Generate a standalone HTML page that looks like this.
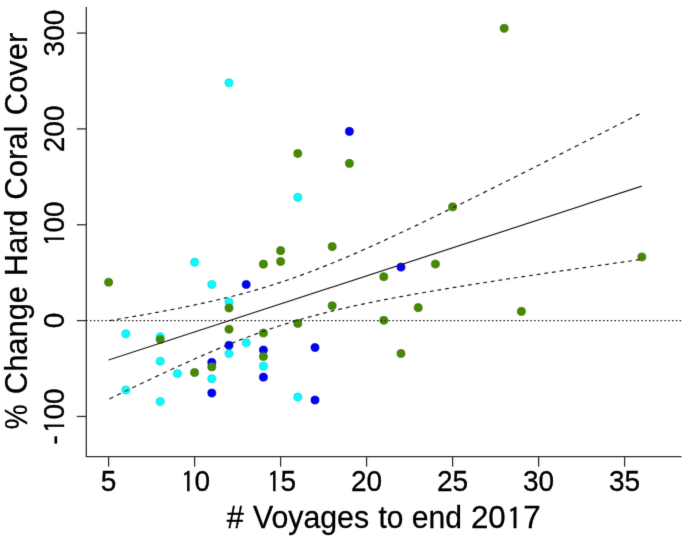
<!DOCTYPE html>
<html><head><meta charset="utf-8"><style>
html,body{margin:0;padding:0;background:#fff;}
body{width:685px;height:538px;overflow:hidden;}
svg{display:block;}
.tk{font-family:"Liberation Sans",Arial,sans-serif;font-size:28px;fill:#000;stroke:#000;stroke-width:0.3px;}
.tt{font-family:"Liberation Sans",Arial,sans-serif;font-size:31px;fill:#000;stroke:#000;stroke-width:0.3px;}
</style></head><body>
<svg width="685" height="538" viewBox="0 0 685 538">
<defs><filter id="bl" x="-5%" y="-5%" width="110%" height="110%"><feConvolveMatrix order="3" kernelMatrix="0.00640 0.06720 0.00640 0.06720 0.70560 0.06720 0.00640 0.06720 0.00640" preserveAlpha="false" edgeMode="none"/></filter></defs>
<rect width="685" height="538" fill="#fff"/>
<g filter="url(#bl)">
<circle cx="125.80" cy="333.83" r="4.05" fill="#00FFFF" stroke="#19c4cc" stroke-width="0.6"/><circle cx="125.80" cy="390.00" r="4.05" fill="#00FFFF" stroke="#19c4cc" stroke-width="0.6"/><circle cx="160.20" cy="336.70" r="4.05" fill="#00FFFF" stroke="#19c4cc" stroke-width="0.6"/><circle cx="160.20" cy="361.24" r="4.05" fill="#00FFFF" stroke="#19c4cc" stroke-width="0.6"/><circle cx="160.20" cy="401.59" r="4.05" fill="#00FFFF" stroke="#19c4cc" stroke-width="0.6"/><circle cx="177.40" cy="373.61" r="4.05" fill="#00FFFF" stroke="#19c4cc" stroke-width="0.6"/><circle cx="194.60" cy="262.13" r="4.05" fill="#00FFFF" stroke="#19c4cc" stroke-width="0.6"/><circle cx="211.80" cy="284.46" r="4.05" fill="#00FFFF" stroke="#19c4cc" stroke-width="0.6"/><circle cx="211.80" cy="378.78" r="4.05" fill="#00FFFF" stroke="#19c4cc" stroke-width="0.6"/><circle cx="229.00" cy="82.80" r="4.05" fill="#00FFFF" stroke="#19c4cc" stroke-width="0.6"/><circle cx="229.00" cy="302.10" r="4.05" fill="#00FFFF" stroke="#19c4cc" stroke-width="0.6"/><circle cx="229.00" cy="353.48" r="4.05" fill="#00FFFF" stroke="#19c4cc" stroke-width="0.6"/><circle cx="246.20" cy="342.74" r="4.05" fill="#00FFFF" stroke="#19c4cc" stroke-width="0.6"/><circle cx="263.40" cy="366.13" r="4.05" fill="#00FFFF" stroke="#19c4cc" stroke-width="0.6"/><circle cx="297.80" cy="197.34" r="4.05" fill="#00FFFF" stroke="#19c4cc" stroke-width="0.6"/><circle cx="297.80" cy="397.09" r="4.05" fill="#00FFFF" stroke="#19c4cc" stroke-width="0.6"/>
<circle cx="211.80" cy="362.39" r="4.05" fill="#0000FF" stroke="#0a0aa8" stroke-width="0.6"/><circle cx="211.80" cy="393.06" r="4.05" fill="#0000FF" stroke="#0a0aa8" stroke-width="0.6"/><circle cx="229.00" cy="345.33" r="4.05" fill="#0000FF" stroke="#0a0aa8" stroke-width="0.6"/><circle cx="246.20" cy="284.46" r="4.05" fill="#0000FF" stroke="#0a0aa8" stroke-width="0.6"/><circle cx="263.40" cy="350.03" r="4.05" fill="#0000FF" stroke="#0a0aa8" stroke-width="0.6"/><circle cx="263.40" cy="377.15" r="4.05" fill="#0000FF" stroke="#0a0aa8" stroke-width="0.6"/><circle cx="315.00" cy="347.53" r="4.05" fill="#0000FF" stroke="#0a0aa8" stroke-width="0.6"/><circle cx="315.00" cy="400.06" r="4.05" fill="#0000FF" stroke="#0a0aa8" stroke-width="0.6"/><circle cx="349.40" cy="131.39" r="4.05" fill="#0000FF" stroke="#0a0aa8" stroke-width="0.6"/><circle cx="401.00" cy="267.12" r="4.05" fill="#0000FF" stroke="#0a0aa8" stroke-width="0.6"/>
<circle cx="108.60" cy="282.26" r="4.05" fill="#458B00" stroke="#3b6a12" stroke-width="0.6"/><circle cx="160.20" cy="339.48" r="4.05" fill="#458B00" stroke="#3b6a12" stroke-width="0.6"/><circle cx="194.60" cy="372.55" r="4.05" fill="#458B00" stroke="#3b6a12" stroke-width="0.6"/><circle cx="211.80" cy="366.90" r="4.05" fill="#458B00" stroke="#3b6a12" stroke-width="0.6"/><circle cx="229.00" cy="307.95" r="4.05" fill="#458B00" stroke="#3b6a12" stroke-width="0.6"/><circle cx="229.00" cy="329.23" r="4.05" fill="#458B00" stroke="#3b6a12" stroke-width="0.6"/><circle cx="263.40" cy="264.14" r="4.05" fill="#458B00" stroke="#3b6a12" stroke-width="0.6"/><circle cx="263.40" cy="333.06" r="4.05" fill="#458B00" stroke="#3b6a12" stroke-width="0.6"/><circle cx="263.40" cy="356.54" r="4.05" fill="#458B00" stroke="#3b6a12" stroke-width="0.6"/><circle cx="280.60" cy="250.63" r="4.05" fill="#458B00" stroke="#3b6a12" stroke-width="0.6"/><circle cx="280.60" cy="261.46" r="4.05" fill="#458B00" stroke="#3b6a12" stroke-width="0.6"/><circle cx="297.80" cy="153.44" r="4.05" fill="#458B00" stroke="#3b6a12" stroke-width="0.6"/><circle cx="297.80" cy="323.38" r="4.05" fill="#458B00" stroke="#3b6a12" stroke-width="0.6"/><circle cx="332.20" cy="246.60" r="4.05" fill="#458B00" stroke="#3b6a12" stroke-width="0.6"/><circle cx="332.20" cy="305.74" r="4.05" fill="#458B00" stroke="#3b6a12" stroke-width="0.6"/><circle cx="349.40" cy="163.41" r="4.05" fill="#458B00" stroke="#3b6a12" stroke-width="0.6"/><circle cx="383.80" cy="276.70" r="4.05" fill="#458B00" stroke="#3b6a12" stroke-width="0.6"/><circle cx="383.80" cy="320.31" r="4.05" fill="#458B00" stroke="#3b6a12" stroke-width="0.6"/><circle cx="401.00" cy="353.48" r="4.05" fill="#458B00" stroke="#3b6a12" stroke-width="0.6"/><circle cx="418.20" cy="307.66" r="4.05" fill="#458B00" stroke="#3b6a12" stroke-width="0.6"/><circle cx="435.40" cy="264.05" r="4.05" fill="#458B00" stroke="#3b6a12" stroke-width="0.6"/><circle cx="452.60" cy="206.92" r="4.05" fill="#458B00" stroke="#3b6a12" stroke-width="0.6"/><circle cx="504.20" cy="28.35" r="4.05" fill="#458B00" stroke="#3b6a12" stroke-width="0.6"/><circle cx="521.40" cy="311.40" r="4.05" fill="#458B00" stroke="#3b6a12" stroke-width="0.6"/><circle cx="641.80" cy="256.96" r="4.05" fill="#458B00" stroke="#3b6a12" stroke-width="0.6"/>
<line x1="86.09" y1="320.60" x2="681.5" y2="320.60" stroke="#222" stroke-width="1.1" stroke-dasharray="1.5 2.329"/>
<path d="M109.40,320.64 L111.30,320.33 L113.20,320.01M117.03,319.37 L118.93,319.05 L120.83,318.73M124.66,318.08 L126.56,317.76 L128.46,317.43M132.29,316.77 L134.19,316.44 L136.09,316.11M139.92,315.44 L141.82,315.10 L143.72,314.77M147.54,314.08 L149.44,313.74 L151.34,313.40M155.17,312.70 L157.07,312.35 L158.97,312.00M162.80,311.28 L164.70,310.93 L166.60,310.57M170.43,309.84 L172.33,309.47 L174.23,309.10M178.06,308.35 L179.96,307.97 L181.86,307.59M185.69,306.82 L187.59,306.44 L189.49,306.05M193.32,305.25 L195.22,304.85 L197.12,304.45M200.95,303.63 L202.85,303.21 L204.75,302.80M208.58,301.95 L210.48,301.52 L212.38,301.09M216.21,300.21 L218.11,299.77 L220.01,299.32M223.83,298.40 L225.73,297.94 L227.63,297.48M231.46,296.52 L233.36,296.04 L235.26,295.56M239.09,294.57 L240.99,294.07 L242.89,293.56M246.72,292.53 L248.62,292.00 L250.52,291.48M254.35,290.39 L256.25,289.85 L258.15,289.30M261.98,288.17 L263.88,287.60 L265.78,287.03M269.61,285.85 L271.51,285.26 L273.41,284.66M277.24,283.43 L279.14,282.81 L281.04,282.19M284.87,280.91 L286.77,280.27 L288.67,279.62M292.50,278.29 L294.40,277.62 L296.30,276.95M300.12,275.57 L302.02,274.88 L303.92,274.18M307.75,272.76 L309.65,272.05 L311.55,271.33M315.38,269.86 L317.28,269.12 L319.18,268.38M323.01,266.87 L324.91,266.11 L326.81,265.35M330.64,263.80 L332.54,263.02 L334.44,262.24M338.27,260.65 L340.17,259.86 L342.07,259.06M345.90,257.44 L347.80,256.63 L349.70,255.81M353.53,254.16 L355.43,253.34 L357.33,252.51M361.16,250.83 L363.06,249.99 L364.96,249.15M368.79,247.44 L370.69,246.59 L372.59,245.73M376.42,244.00 L378.31,243.14 L380.21,242.28M384.04,240.53 L385.94,239.65 L387.84,238.78M391.67,237.01 L393.57,236.13 L395.47,235.25M399.30,233.46 L401.20,232.57 L403.10,231.68M406.93,229.88 L408.83,228.98 L410.73,228.08M414.56,226.27 L416.46,225.36 L418.36,224.46M422.19,222.63 L424.09,221.72 L425.99,220.81M429.82,218.97 L431.72,218.05 L433.62,217.14M437.45,215.29 L439.35,214.37 L441.25,213.44M445.08,211.58 L446.98,210.66 L448.88,209.73M452.71,207.87 L454.61,206.94 L456.50,206.01M460.33,204.13 L462.23,203.20 L464.13,202.27M467.96,200.38 L469.86,199.45 L471.76,198.51M475.59,196.62 L477.49,195.68 L479.39,194.74M483.22,192.85 L485.12,191.90 L487.02,190.96M490.85,189.06 L492.75,188.12 L494.65,187.17M498.48,185.26 L500.38,184.32 L502.28,183.37M506.11,181.46 L508.01,180.51 L509.91,179.56M513.74,177.65 L515.64,176.70 L517.54,175.74M521.37,173.82 L523.27,172.87 L525.17,171.92M529.00,170.00 L530.89,169.04 L532.79,168.09M536.62,166.16 L538.52,165.20 L540.42,164.25M544.25,162.32 L546.15,161.36 L548.05,160.40M551.88,158.47 L553.78,157.51 L555.68,156.55M559.51,154.62 L561.41,153.66 L563.31,152.69M567.14,150.76 L569.04,149.80 L570.94,148.83M574.77,146.89 L576.67,145.93 L578.57,144.97M582.40,143.03 L584.30,142.06 L586.20,141.10M590.03,139.15 L591.93,138.19 L593.83,137.22M597.66,135.28 L599.56,134.31 L601.46,133.35M605.28,131.40 L607.18,130.43 L609.08,129.47M612.91,127.52 L614.81,126.55 L616.71,125.58M620.54,123.63 L622.44,122.66 L624.34,121.69M628.17,119.74 L630.07,118.77 L631.97,117.80M635.80,115.85 L637.70,114.88 L639.60,113.91" fill="none" stroke="#222" stroke-width="1.2"/>
<path d="M109.40,398.94 L111.30,398.02 L113.20,397.09M117.03,395.23 L118.93,394.31 L120.83,393.39M124.66,391.54 L126.56,390.63 L128.46,389.71M132.29,387.88 L134.19,386.96 L136.09,386.06M139.92,384.23 L141.82,383.32 L143.72,382.42M147.54,380.61 L149.44,379.71 L151.34,378.81M155.17,377.01 L157.07,376.12 L158.97,375.23M162.80,373.45 L164.70,372.57 L166.60,371.69M170.43,369.92 L172.33,369.04 L174.23,368.17M178.06,366.43 L179.96,365.56 L181.86,364.70M185.69,362.97 L187.59,362.12 L189.49,361.27M193.32,359.57 L195.22,358.73 L197.12,357.89M200.95,356.21 L202.85,355.39 L204.75,354.56M208.58,352.91 L210.48,352.10 L212.38,351.29M216.21,349.67 L218.11,348.88 L220.01,348.08M223.83,346.50 L225.73,345.72 L227.63,344.95M231.46,343.40 L233.36,342.64 L235.26,341.89M239.09,340.38 L240.99,339.64 L242.89,338.91M246.72,337.44 L248.62,336.73 L250.52,336.01M254.35,334.60 L256.25,333.90 L258.15,333.21M261.98,331.84 L263.88,331.17 L265.78,330.50M269.61,329.18 L271.51,328.54 L273.41,327.90M277.24,326.62 L279.14,326.00 L281.04,325.39M284.87,324.17 L286.77,323.57 L288.67,322.98M292.50,321.81 L294.40,321.23 L296.30,320.67M300.12,319.55 L302.02,319.00 L303.92,318.46M307.75,317.38 L309.65,316.85 L311.55,316.34M315.38,315.30 L317.28,314.80 L319.18,314.30M323.01,313.32 L324.91,312.83 L326.81,312.36M330.64,311.41 L332.54,310.94 L334.44,310.49M338.27,309.57 L340.17,309.13 L342.07,308.69M345.90,307.81 L347.80,307.38 L349.70,306.95M353.53,306.11 L355.43,305.69 L357.33,305.28M361.16,304.46 L363.06,304.06 L364.96,303.67M368.79,302.87 L370.69,302.48 L372.59,302.10M376.42,301.33 L378.31,300.95 L380.21,300.58M384.04,299.83 L385.94,299.46 L387.84,299.09M391.67,298.37 L393.57,298.01 L395.47,297.65M399.30,296.94 L401.20,296.59 L403.10,296.24M406.93,295.54 L408.83,295.20 L410.73,294.86M414.56,294.18 L416.46,293.84 L418.36,293.50M422.19,292.83 L424.09,292.50 L425.99,292.18M429.82,291.52 L431.72,291.19 L433.62,290.87M437.45,290.22 L439.35,289.90 L441.25,289.58M445.08,288.94 L446.98,288.63 L448.88,288.31M452.71,287.68 L454.61,287.37 L456.50,287.06M460.33,286.44 L462.23,286.13 L464.13,285.82M467.96,285.21 L469.86,284.90 L471.76,284.60M475.59,283.99 L477.49,283.69 L479.39,283.39M483.22,282.79 L485.12,282.49 L487.02,282.19M490.85,281.60 L492.75,281.30 L494.65,281.00M498.48,280.41 L500.38,280.12 L502.28,279.83M506.11,279.24 L508.01,278.95 L509.91,278.66M513.74,278.07 L515.64,277.78 L517.54,277.50M521.37,276.92 L523.27,276.63 L525.17,276.34M529.00,275.77 L530.89,275.48 L532.79,275.20M536.62,274.62 L538.52,274.34 L540.42,274.06M544.25,273.49 L546.15,273.21 L548.05,272.92M551.88,272.36 L553.78,272.08 L555.68,271.80M559.51,271.23 L561.41,270.95 L563.31,270.67M567.14,270.11 L569.04,269.83 L570.94,269.56M574.77,269.00 L576.67,268.72 L578.57,268.44M582.40,267.89 L584.30,267.61 L586.20,267.34M590.03,266.78 L591.93,266.51 L593.83,266.23M597.66,265.68 L599.56,265.40 L601.46,265.13M605.28,264.58 L607.18,264.31 L609.08,264.03M612.91,263.48 L614.81,263.21 L616.71,262.94M620.54,262.39 L622.44,262.12 L624.34,261.85M628.17,261.30 L630.07,261.03 L631.97,260.76M635.80,260.21 L637.70,259.94 L639.60,259.67" fill="none" stroke="#222" stroke-width="1.2"/>
<line x1="108.60" y1="360.05" x2="641.80" y2="186.07" stroke="#222" stroke-width="1.2"/>
<polyline points="86.3,7.0 86.3,456.6 681.5,456.6" fill="none" stroke="#333" stroke-width="1.3"/>
<line x1="108.60" y1="456.6" x2="108.60" y2="466.6" stroke="#333" stroke-width="1.3"/>
<text transform="translate(108.60,490.5) scale(1,1.05)" x="-7.786" class="tk">5</text>
<line x1="194.60" y1="456.6" x2="194.60" y2="466.6" stroke="#333" stroke-width="1.3"/>
<text transform="translate(194.60,490.5) scale(1,1.05)" x="-15.572" class="tk"><tspan font-family="IPAGothic, Liberation Sans, sans-serif" font-size="26.5px" dx="2.300" dy="1.18">1</tspan><tspan dx="0.028" dy="-1.18">0</tspan></text>
<line x1="280.60" y1="456.6" x2="280.60" y2="466.6" stroke="#333" stroke-width="1.3"/>
<text transform="translate(280.60,490.5) scale(1,1.05)" x="-15.572" class="tk"><tspan font-family="IPAGothic, Liberation Sans, sans-serif" font-size="26.5px" dx="2.300" dy="1.18">1</tspan><tspan dx="0.028" dy="-1.18">5</tspan></text>
<line x1="366.60" y1="456.6" x2="366.60" y2="466.6" stroke="#333" stroke-width="1.3"/>
<text transform="translate(366.60,490.5) scale(1,1.05)" x="-15.572" class="tk">20</text>
<line x1="452.60" y1="456.6" x2="452.60" y2="466.6" stroke="#333" stroke-width="1.3"/>
<text transform="translate(452.60,490.5) scale(1,1.05)" x="-15.572" class="tk">25</text>
<line x1="538.60" y1="456.6" x2="538.60" y2="466.6" stroke="#333" stroke-width="1.3"/>
<text transform="translate(538.60,490.5) scale(1,1.05)" x="-15.572" class="tk">30</text>
<line x1="624.60" y1="456.6" x2="624.60" y2="466.6" stroke="#333" stroke-width="1.3"/>
<text transform="translate(624.60,490.5) scale(1,1.05)" x="-15.572" class="tk">35</text>
<line x1="76.8" y1="416.45" x2="86.3" y2="416.45" stroke="#333" stroke-width="1.3"/>
<text transform="translate(64,416.45) rotate(-90) scale(1,1.05)" x="-28.020" class="tk">-<tspan font-family="IPAGothic, Liberation Sans, sans-serif" font-size="26.5px" dx="2.300" dy="1.18">1</tspan><tspan dx="0.028" dy="-1.18">0</tspan>0</text>
<line x1="76.8" y1="320.60" x2="86.3" y2="320.60" stroke="#333" stroke-width="1.3"/>
<text transform="translate(64,320.60) rotate(-90) scale(1,1.05)" x="-7.786" class="tk">0</text>
<line x1="76.8" y1="224.75" x2="86.3" y2="224.75" stroke="#333" stroke-width="1.3"/>
<text transform="translate(64,224.75) rotate(-90) scale(1,1.05)" x="-23.358" class="tk"><tspan font-family="IPAGothic, Liberation Sans, sans-serif" font-size="26.5px" dx="2.300" dy="1.18">1</tspan><tspan dx="0.028" dy="-1.18">0</tspan>0</text>
<line x1="76.8" y1="128.90" x2="86.3" y2="128.90" stroke="#333" stroke-width="1.3"/>
<text transform="translate(64,128.90) rotate(-90) scale(1,1.05)" x="-23.358" class="tk">200</text>
<line x1="76.8" y1="33.05" x2="86.3" y2="33.05" stroke="#333" stroke-width="1.3"/>
<text transform="translate(64,33.05) rotate(-90) scale(1,1.05)" x="-23.358" class="tk">300</text>
<text transform="translate(226.65,527.7) scale(0.9881,1)" class="tt">#</text>
<text transform="translate(253.01,527.7) scale(0.9762,1)" class="tt">Voyages</text>
<text transform="translate(378.57,527.7) scale(0.9625,1)" class="tt">to</text>
<text transform="translate(411.74,527.7) scale(0.9711,1)" class="tt">end</text>
<text transform="translate(470.93,527.7) scale(1.0121,1)" class="tt">20<tspan font-family="IPAGothic, Liberation Sans, sans-serif" font-size="30px" dx="1.210" dy="1.34">1</tspan><tspan dx="1.040" dy="-1.34">7</tspan></text>
<text transform="translate(27.0,429.15) rotate(-90) scale(0.9020,1)" class="tt">%</text>
<text transform="translate(27.0,394.15) rotate(-90) scale(0.9967,1)" class="tt">Change</text>
<text transform="translate(27.0,275.92) rotate(-90) scale(0.9865,1)" class="tt">Hard</text>
<text transform="translate(27.0,199.75) rotate(-90) scale(1.0000,1)" class="tt">Coral</text>
<text transform="translate(27.0,115.15) rotate(-90) scale(0.9969,1)" class="tt">Cover</text>
</g>
</svg>
</body></html>
